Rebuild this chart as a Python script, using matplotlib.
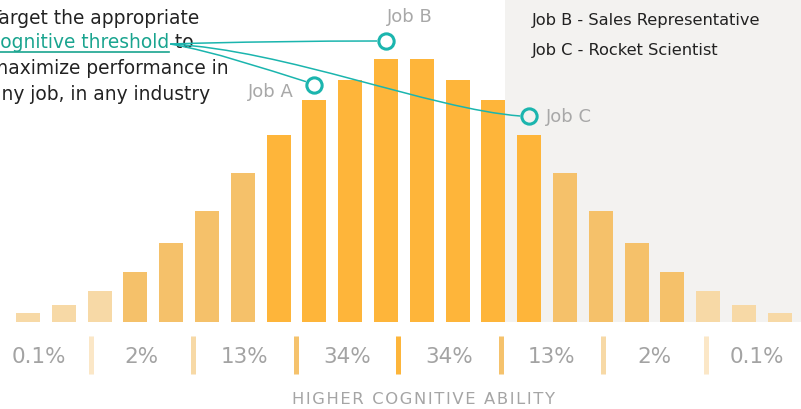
import numpy as np
import matplotlib.pyplot as plt
from matplotlib.path import Path
from matplotlib.patches import PathPatch, Rectangle

# bar heights (px above baseline), left to right
heights = [9, 17, 31, 50, 79, 111, 149, 187, 222, 242, 263,
           263, 242, 222, 187, 149, 111, 79, 50, 31, 17, 9]
# 0 = light, 1 = medium, 2 = strong
shade = [0, 0, 0, 1, 1, 1, 1, 2, 2, 2, 2,
         2, 2, 2, 2, 1, 1, 1, 1, 0, 0, 0]
pct_labels = ["0.1%", "2%", "13%", "34%", "34%", "13%", "2%", "0.1%"]
sep_colors = ["#fbe7c7", "#f7d9a6", "#f5c26c", "#fdb53a",
              "#f5c26c", "#f7d9a6", "#fbe7c7"]
job_names = ["Job A", "Job B", "Job C"]
job_x = [8, 10, 14]
job_y = [237, 281, 206]
legend_lines = ["Job B - Sales Representative", "Job C - Rocket Scientist"]

bar_colors = ["#f7d9a6", "#f5c16a", "#feb53a"]
teal = "#1bb5ae"
green = "#19a48f"
grey = "#a8a8a8"

W, H = 801, 410
fig = plt.figure(figsize=(W / 100, H / 100), dpi=100)
fig.patch.set_facecolor("white")

step = 35.8
ax = fig.add_axes([0, 0, 1, 1])
ax.set_xlim(-28 / step, (W - 28) / step)
ax.set_ylim(-(H - 323), 323)
ax.axis("off")

x = np.arange(len(heights))
ax.add_patch(Rectangle((13.33, 0), 20, 400, color="#f3f2f0", zorder=0, lw=0))
ax.bar(x, heights, width=0.67, color=[bar_colors[s] for s in shade], zorder=2)

# percentage row
lab = fig.add_axes([-12 / W, 0, 820 / W, 1])
lab.set_xlim(0, 8)
lab.set_ylim(-(H - 323), 323)
lab.axis("off")
for k, t in enumerate(pct_labels):
    lab.text(k + 0.5, -34, t, ha="center", va="center", fontsize=15.5,
             color="#a3a3a3")
for k, c in enumerate(sep_colors):
    lab.plot([k + 1, k + 1], [-14, -52], color=c, lw=3.6, solid_capstyle="butt")

# overlay in pixel coords (y down)
ov = fig.add_axes([0, 0, 1, 1])
ov.set_xlim(0, W)
ov.set_ylim(H, 0)
ov.axis("off")
ov.patch.set_alpha(0)

ov.text(423, 400, "\u200a".join("HIGHER COGNITIVE ABILITY"), ha="center", va="center",
        fontsize=11.8, color="#a5a5a5")

for i, t in enumerate(legend_lines):
    ov.text(532, 20 + 30 * i, t, ha="left", va="center", fontsize=11.7, color="#222222")

# paragraph
fs = 13.4
x0 = -10
ov.text(x0, 18, "Target the appropriate", ha="left", va="center", fontsize=fs, color="#222222")
t_teal = ov.text(x0, 43, "cognitive threshold", ha="left", va="center", fontsize=fs,
                 color=green)
ov.text(x0, 68, "maximize performance in", ha="left", va="center", fontsize=fs, color="#222222")
ov.text(x0, 94, "any job, in any industry", ha="left", va="center", fontsize=fs, color="#222222")

fig.canvas.draw()
bb = t_teal.get_window_extent()
tx1 = ov.transData.inverted().transform((bb.x1, bb.y0))[0]
ov.text(tx1, 43, " to", ha="left", va="center", fontsize=fs, color="#222222")
ov.plot([0, tx1], [52.5, 52.5], color=green, lw=1.2)

# circles and connectors
def to_px(xd, yd):
    d = ax.transData.transform((xd, yd))
    return ov.transData.inverted().transform(d)

ax.plot(job_x, job_y, "o", ms=11, mfc="none", mec=teal, mew=2.2, zorder=5)
sx, sy = tx1 + 1, 45
ctrl = {
    0: lambda ex, ey: [(sx + 45, sy + 8), (ex - 45, ey - 14)],
    1: lambda ex, ey: [(sx + 60, sy - 2), (ex - 60, ey)],
    2: lambda ex, ey: [(sx + 115, sy + 6), (ex - 90, ey - 7)],
}
r = 9
for i in range(3):
    cx, cy = to_px(job_x[i], job_y[i])
    if i == 0:
        ex, ey = cx - r * 0.93, cy - r * 0.37
    else:
        ex, ey = cx - r, cy
    c1, c2 = ctrl[i](ex, ey)
    p = Path([(sx, sy), c1, c2, (ex, ey)],
             [Path.MOVETO, Path.CURVE4, Path.CURVE4, Path.CURVE4])
    ov.add_patch(PathPatch(p, fc="none", ec=teal, lw=1.1, zorder=4))
    if i == 0:
        ov.text(cx - 21, cy + 6, job_names[i], ha="right", va="center", fontsize=13, color=grey)
    elif i == 1:
        ov.text(cx + 1, cy - 25, job_names[i], ha="left", va="center", fontsize=13, color=grey)
    else:
        ov.text(cx + 17, cy, job_names[i], ha="left", va="center", fontsize=13, color=grey)

fig.savefig("out.png", dpi=100)
